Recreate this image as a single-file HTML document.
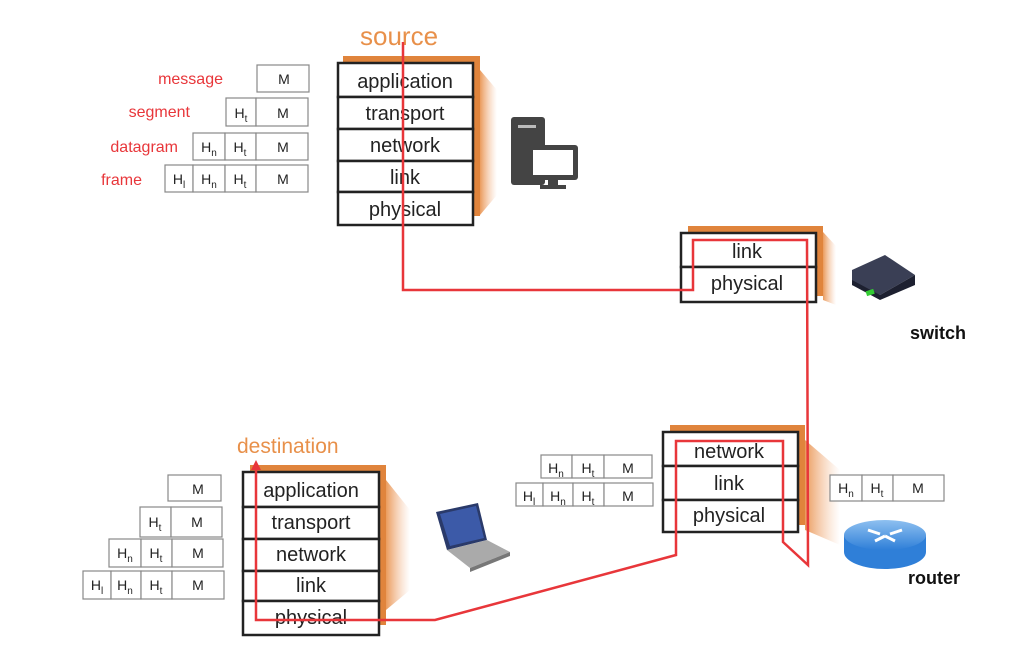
<!DOCTYPE html>
<html><head><meta charset="utf-8"><style>
html,body{margin:0;padding:0;background:#fff;}
svg{display:block;font-family:"Liberation Sans",sans-serif;}
</style></head><body>
<svg width="1032" height="664" viewBox="0 0 1032 664" xmlns="http://www.w3.org/2000/svg">
<defs>
<linearGradient id="og" x1="0" x2="1"><stop offset="0" stop-color="#e8904a" stop-opacity="0.9"/><stop offset="1" stop-color="#f4b890" stop-opacity="0"/></linearGradient>
<linearGradient id="rt" x1="0" x2="0" y1="0" y2="1"><stop offset="0" stop-color="#8ec0f0"/><stop offset="1" stop-color="#2f7fd8"/></linearGradient>
</defs>
<!-- source -->
<text x="360" y="45" font-size="26" fill="#e8904a">source</text>
<rect x="343" y="56" width="137" height="160" fill="#e0843c"/>
<polygon points="480,70 497,90 497,195 480,215" fill="url(#og)"/>
<g fill="#fff" stroke="#222" stroke-width="2.5">
<rect x="338" y="63" width="135" height="34"/><rect x="338" y="97" width="135" height="32"/><rect x="338" y="129" width="135" height="32"/><rect x="338" y="161" width="135" height="31"/><rect x="338" y="192" width="135" height="33"/>
</g>
<g font-size="20" fill="#222" text-anchor="middle">
<text x="405" y="88">application</text><text x="405" y="120">transport</text><text x="405" y="152">network</text><text x="405" y="184">link</text><text x="405" y="216">physical</text>
</g>
<!-- source headers -->
<g font-size="16" fill="#e8363a" text-anchor="end">
<text x="223" y="84">message</text><text x="190" y="117">segment</text><text x="178" y="152">datagram</text><text x="142" y="185">frame</text>
</g>
<g fill="#fff" stroke="#888" stroke-width="1.2">
<rect x="257" y="65" width="52" height="27"/>
<rect x="226" y="98" width="30" height="28"/><rect x="256" y="98" width="52" height="28"/>
<rect x="193" y="133" width="32" height="27"/><rect x="225" y="133" width="31" height="27"/><rect x="256" y="133" width="52" height="27"/>
<rect x="165" y="165" width="28" height="27"/><rect x="193" y="165" width="32" height="27"/><rect x="225" y="165" width="31" height="27"/><rect x="256" y="165" width="52" height="27"/>
</g>
<g font-size="14" fill="#222" text-anchor="middle">
<text x="284" y="84">M</text>
<text x="241" y="118">H<tspan font-size="10" dy="4">t</tspan></text><text x="283" y="118">M</text>
<text x="209" y="152">H<tspan font-size="10" dy="4">n</tspan></text><text x="240" y="152">H<tspan font-size="10" dy="4">t</tspan></text><text x="283" y="152">M</text>
<text x="179" y="184">H<tspan font-size="10" dy="4">l</tspan></text><text x="209" y="184">H<tspan font-size="10" dy="4">n</tspan></text><text x="240" y="184">H<tspan font-size="10" dy="4">t</tspan></text><text x="283" y="184">M</text>
</g>
<!-- desktop icon -->
<rect x="511" y="117" width="34" height="68" rx="3" fill="#444"/>
<rect x="518" y="125" width="18" height="3" fill="#bbb"/>
<rect x="528" y="145" width="50" height="35" rx="3" fill="#444"/>
<rect x="533" y="150" width="40" height="25" fill="#fff"/>
<rect x="548" y="180" width="10" height="6" fill="#444"/><rect x="540" y="185" width="26" height="4" fill="#444"/>
<!-- switch stack -->
<rect x="688" y="226" width="135" height="70" fill="#e0843c"/>
<polygon points="823,232 836,246 836,305 823,300" fill="url(#og)"/>
<g fill="#fff" stroke="#222" stroke-width="2.5"><rect x="681" y="233" width="135" height="34"/><rect x="681" y="267" width="135" height="35"/></g>
<g font-size="20" fill="#222" text-anchor="middle"><text x="747" y="258">link</text><text x="747" y="290">physical</text></g>
<!-- switch icon -->
<polygon points="852,270 885,255 915,275 880,295 852,285" fill="#3a3f55"/>
<polygon points="852,285 880,300 915,285 915,275 880,295 852,280" fill="#1d2030"/>
<rect x="866" y="290" width="8" height="5" fill="#3c3" transform="rotate(-18 870 292)"/>
<text x="910" y="339" font-size="18" font-weight="bold" fill="#111">switch</text>
<!-- router stack -->
<rect x="670" y="425" width="135" height="100" fill="#e0843c"/>
<polygon points="805,440 840,470 840,545 805,530" fill="url(#og)"/>
<g fill="#fff" stroke="#222" stroke-width="2.5"><rect x="663" y="432" width="135" height="34"/><rect x="663" y="466" width="135" height="34"/><rect x="663" y="500" width="135" height="32"/></g>
<g font-size="20" fill="#222" text-anchor="middle"><text x="729" y="458">network</text><text x="729" y="490">link</text><text x="729" y="522">physical</text></g>
<g fill="#fff" stroke="#888" stroke-width="1.2">
<rect x="541" y="455" width="31" height="23"/><rect x="572" y="455" width="32" height="23"/><rect x="604" y="455" width="48" height="23"/>
<rect x="516" y="483" width="27" height="23"/><rect x="543" y="483" width="30" height="23"/><rect x="573" y="483" width="31" height="23"/><rect x="604" y="483" width="49" height="23"/>
<rect x="830" y="475" width="32" height="26"/><rect x="862" y="475" width="31" height="26"/><rect x="893" y="475" width="51" height="26"/>
</g>
<g font-size="14" fill="#222" text-anchor="middle">
<text x="556" y="473">H<tspan font-size="10" dy="4">n</tspan></text><text x="588" y="473">H<tspan font-size="10" dy="4">t</tspan></text><text x="628" y="473">M</text>
<text x="529" y="501">H<tspan font-size="10" dy="4">l</tspan></text><text x="558" y="501">H<tspan font-size="10" dy="4">n</tspan></text><text x="588" y="501">H<tspan font-size="10" dy="4">t</tspan></text><text x="628" y="501">M</text>
<text x="846" y="493">H<tspan font-size="10" dy="4">n</tspan></text><text x="877" y="493">H<tspan font-size="10" dy="4">t</tspan></text><text x="918" y="493">M</text>
</g>
<!-- router icon -->
<ellipse cx="885" cy="552" rx="41" ry="17" fill="#2f7fd8"/>
<rect x="844" y="535" width="82" height="17" fill="#2f7fd8"/>
<ellipse cx="885" cy="535" rx="41" ry="15" fill="url(#rt)"/>
<path d="M868,530 l12,4 M902,530 l-12,4 M875,541 l10,-5 M895,541 l-10,-5" stroke="#fff" stroke-width="3"/>
<text x="908" y="584" font-size="18" font-weight="bold" fill="#111">router</text>
<!-- destination -->
<text x="237" y="453" font-size="21" fill="#e8904a">destination</text>
<rect x="250" y="465" width="136" height="160" fill="#e0843c"/>
<polygon points="386,480 410,510 410,590 386,610" fill="url(#og)"/>
<g fill="#fff" stroke="#222" stroke-width="2.5">
<rect x="243" y="472" width="136" height="35"/><rect x="243" y="507" width="136" height="32"/><rect x="243" y="539" width="136" height="32"/><rect x="243" y="571" width="136" height="30"/><rect x="243" y="601" width="136" height="34"/>
</g>
<g font-size="20" fill="#222" text-anchor="middle">
<text x="311" y="497">application</text><text x="311" y="529">transport</text><text x="311" y="561">network</text><text x="311" y="592">link</text><text x="311" y="624">physical</text>
</g>
<g fill="#fff" stroke="#888" stroke-width="1.2">
<rect x="168" y="475" width="53" height="26"/>
<rect x="140" y="507" width="31" height="30"/><rect x="171" y="507" width="51" height="30"/>
<rect x="109" y="539" width="32" height="28"/><rect x="141" y="539" width="31" height="28"/><rect x="172" y="539" width="51" height="28"/>
<rect x="83" y="571" width="28" height="28"/><rect x="111" y="571" width="30" height="28"/><rect x="141" y="571" width="31" height="28"/><rect x="172" y="571" width="52" height="28"/>
</g>
<g font-size="14" fill="#222" text-anchor="middle">
<text x="198" y="494">M</text>
<text x="155" y="527">H<tspan font-size="10" dy="4">t</tspan></text><text x="197" y="527">M</text>
<text x="125" y="558">H<tspan font-size="10" dy="4">n</tspan></text><text x="156" y="558">H<tspan font-size="10" dy="4">t</tspan></text><text x="198" y="558">M</text>
<text x="97" y="590">H<tspan font-size="10" dy="4">l</tspan></text><text x="125" y="590">H<tspan font-size="10" dy="4">n</tspan></text><text x="156" y="590">H<tspan font-size="10" dy="4">t</tspan></text><text x="198" y="590">M</text>
</g>
<!-- laptop icon -->
<polygon points="436,512 478,503 487,540 447,550" fill="#2a3a6a"/>
<polygon points="440,514 476,506 484,538 450,546" fill="#3c5aa8"/>
<polygon points="447,550 487,540 510,552 470,568" fill="#aaa"/>
<polygon points="470,568 510,552 510,556 470,572" fill="#777"/>
<!-- red path -->
<polyline points="403,42 403,290 693,290 693,240 807,240 808,565 783,542 783,441 676,441 676,555 435,620 256,620 256,468" fill="none" stroke="#e8363a" stroke-width="2.5"/>
<polygon points="256,460 251,470 261,470" fill="#e8363a"/>
</svg>
</body></html>
